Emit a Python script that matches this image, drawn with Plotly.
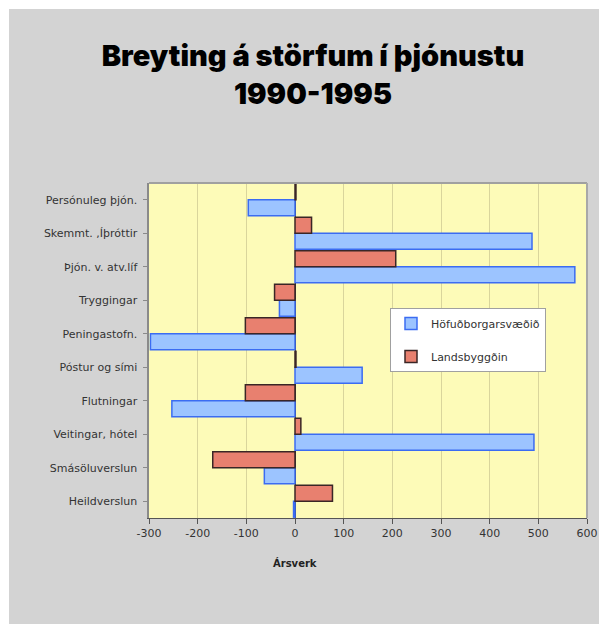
import plotly.graph_objects as go

categories = ["Heildverslun", "Smásöluverslun", "Veitingar, hótel", "Flutningar",
              "Póstur og sími", "Peningastofn.", "Tryggingar", "Þjón. v. atv.líf",
              "Skemmt. ,Íþróttir", "Persónuleg þjón."]
hofudborg = [-3, -63, 491, -253, 138, -297, -32, 575, 487, -96]
landsbyggd = [77, -169, 12, -102, 2, -102, -42, 207, 34, 2]
x_ticks = [-300, -200, -100, 0, 100, 200, 300, 400, 500, 600]

W, H = 609, 634
L, R, T, B = 149, 22, 183, 116
pw, ph = W - L - R, H - T - B

def px(x):
    return (x - L) / pw

def py(y):
    return (H - B - y) / ph

fig = go.Figure()
fig.add_trace(go.Bar(
    y=categories, x=hofudborg, orientation="h", name="Höfuðborgarsvæðið",
    legendgroup="a",
    marker=dict(color="#9cc4ff", line=dict(color="#3b6cf2", width=1.5)),
))
fig.add_trace(go.Bar(
    y=categories, x=landsbyggd, orientation="h", name="Landsbyggðin",
    legendgroup="b",
    marker=dict(color="#e8806f", line=dict(color="#3a2626", width=1.5)),
))

shapes = [
    dict(type="rect", xref="paper", yref="paper", layer="below",
         x0=px(9), x1=px(599), y0=py(624), y1=py(9),
         fillcolor="#d3d3d3", line=dict(width=0)),
    dict(type="rect", xref="paper", yref="paper", layer="below",
         x0=0, x1=1, y0=0, y1=1,
         fillcolor="#fdfbb8", line=dict(width=0)),
    dict(type="line", xref="paper", yref="paper", x0=0, x1=1, y0=1, y1=1,
         line=dict(color="#a0a0a0", width=2)),
    dict(type="line", xref="paper", yref="paper", x0=1, x1=1, y0=0, y1=1,
         line=dict(color="#a8a8a8", width=2)),
]

fig.update_layout(
    width=W, height=H,
    margin=dict(l=L, r=R, t=T, b=B),
    paper_bgcolor="white",
    plot_bgcolor="rgba(0,0,0,0)",
    shapes=shapes,
    barmode="group", bargap=0.05, bargroupgap=0,
    title=dict(
        text="Breyting á störfum í þjónustu<br>1990-1995",
        x=313 / W, xanchor="center", xref="container",
        y=1 - 66 / H, yanchor="top", yref="container",
        font=dict(family="Inter", size=29, color="black", weight=900),
    ),
    font=dict(family="DejaVu Sans", size=11, color="#333333"),
    legend=dict(
        x=px(390), y=py(308), xanchor="left", yanchor="top",
        bgcolor="white", bordercolor="#a0a0a0", borderwidth=1,
        font=dict(size=11, color="#333333"),
        tracegroupgap=14,
    ),
    xaxis=dict(
        range=[-300, 600], tickvals=x_ticks, ticktext=[str(v) for v in x_ticks],
        showgrid=True, gridcolor="#d9d59c", gridwidth=1,
        zeroline=True, zerolinecolor="#3a3a3a", zerolinewidth=1,
        showline=True, linecolor="#555555", linewidth=1, mirror=False,
        ticks="outside", ticklen=5, tickcolor="#555555",
        fixedrange=True,
    ),
    yaxis=dict(
        showgrid=False, showline=True, linecolor="#8a8a8a", linewidth=2, mirror=False,
        ticks="outside", ticklen=4, tickcolor="#8a8a8a",
        ticksuffix=" ", fixedrange=True,
    ),
    annotations=[dict(
        text="<b>Ársverk</b>", x=0, xref="x", y=0, yref="paper",
        yanchor="middle", yshift=-45, showarrow=False,
        font=dict(family="DejaVu Sans", size=10, color="#222222"),
    )],
)

fig.write_html(
    "out.html",
    config={"displayModeBar": False},
    post_script="document.body.style.margin='0';document.body.style.overflow='hidden';",
)
